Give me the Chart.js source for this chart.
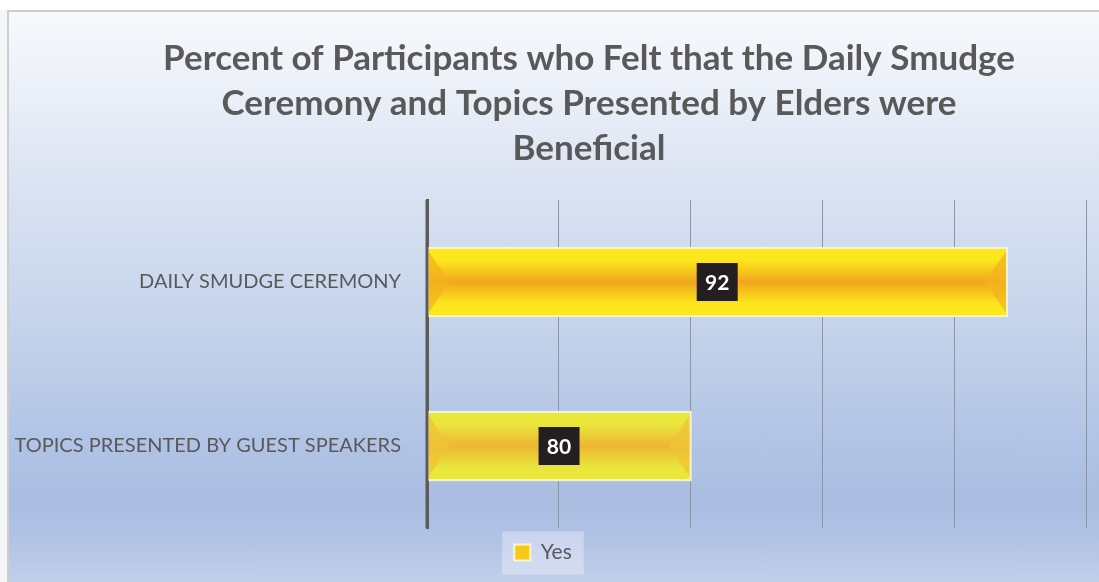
<!DOCTYPE html>
<html>
<head>
<meta charset="utf-8">
<script src="https://cdn.jsdelivr.net/npm/chart.js@4.4.1/dist/chart.umd.min.js"></script>
<style>
  html, body { margin: 0; padding: 0; background: #ffffff; overflow: hidden; }
  #wrap { position: relative; width: 1099px; height: 582px; background: #f4f5f6; }
  #frame {
    position: absolute; left: 7px; top: 10px; right: 0; bottom: 0;
    border-left: 2px solid #cbcdd1; border-top: 2px solid #cbcdd1;
    background: linear-gradient(to bottom,
      #f7f9fc 0px, #e9eef7 90px, #d6e0f1 200px, #c2d1ea 330px,
      #b3c5e6 420px, #a9bde1 490px, #b2c3e5 530px, #c3d0ea 572px);
  }
  #top { position: absolute; left: 0; top: 0; width: 1099px; height: 10px; background: #ffffff; }
  canvas { position: absolute; left: 0; top: 0; }
</style>
</head>
<body>
<div id="wrap">
  <div id="top"></div>
  <div id="frame"></div>
  <canvas id="chart" width="1099" height="582"></canvas>
</div>
<script>
// Survey results
const titleLines = [
  'Percent of Participants who Felt that the Daily Smudge',
  'Ceremony and Topics Presented by Elders were',
  'Beneficial'
];
const categories = ['DAILY SMUDGE CEREMONY', 'TOPICS PRESENTED BY GUEST SPEAKERS'];
const seriesName = 'Yes';
const yesValues = [92, 80];
const axisMin = 70;
const axisMax = 95;
const axisStep = 5;

// Bar shading per category: [edge, middle, end-bevel]
const barShades = [
  ['#fbe71c', '#f1a61e', '#f4b31c'],
  ['#e9e63c', '#ecb733', '#eec436']
];

const textGrey = '#595959';

// Multi-line title centred over the plot + label column
const titlePlugin = {
  id: 'blockTitle',
  afterDraw(chart) {
    const ctx = chart.ctx;
    ctx.save();
    ctx.fillStyle = textGrey;
    ctx.font = 'bold 35px Lato';
    ctx.textAlign = 'center';
    ctx.textBaseline = 'alphabetic';
    titleLines.forEach((line, i) => ctx.fillText(line, 589, 70 + i * 45));
    ctx.restore();
  }
};

// Bevelled bar faces drawn over each bar element
const bevelPlugin = {
  id: 'bevelBars',
  afterDatasetsDraw(chart) {
    const ctx = chart.ctx;
    const meta = chart.getDatasetMeta(0);
    meta.data.forEach((bar, i) => {
      const p = bar.getProps(['x', 'y', 'base', 'height'], true);
      const x0 = Math.min(p.base, p.x), x1 = Math.max(p.base, p.x);
      const y0 = p.y - p.height / 2, y1 = p.y + p.height / 2;
      const shade = barShades[i % barShades.length];
      const b = Math.min(22, (x1 - x0) / 3);
      ctx.save();
      const g = ctx.createLinearGradient(0, y0, 0, y1);
      g.addColorStop(0, shade[0]);
      g.addColorStop(0.18, shade[0]);
      g.addColorStop(0.5, shade[1]);
      g.addColorStop(0.82, shade[0]);
      g.addColorStop(1, shade[0]);
      ctx.fillStyle = g;
      ctx.fillRect(x0, y0, x1 - x0, y1 - y0);
      // end bevels
      ctx.globalAlpha = 0.75;
      ctx.fillStyle = shade[2];
      ctx.beginPath();
      ctx.moveTo(x0, y0 + 2); ctx.lineTo(x0 + b, p.y); ctx.lineTo(x0, y1 - 2); ctx.closePath();
      ctx.fill();
      ctx.beginPath();
      ctx.moveTo(x1, y0 + 2); ctx.lineTo(x1 - b, p.y); ctx.lineTo(x1, y1 - 2); ctx.closePath();
      ctx.fill();
      ctx.globalAlpha = 1;
      // light rim
      ctx.strokeStyle = 'rgba(255,250,215,0.85)';
      ctx.lineWidth = 2;
      ctx.strokeRect(x0, y0, x1 - x0, y1 - y0);
      ctx.restore();
    });
    // value axis line on top of the bar ends
    const ys = chart.scales.y;
    ctx.save();
    ctx.strokeStyle = '#5c5c5c';
    ctx.lineWidth = 3;
    ctx.beginPath();
    ctx.moveTo(ys.right, chart.chartArea.top);
    ctx.lineTo(ys.right, chart.chartArea.bottom);
    ctx.stroke();
    ctx.restore();
  }
};

// Dark value boxes centred on each bar
const valueBoxPlugin = {
  id: 'valueBoxes',
  afterDatasetsDraw(chart) {
    const ctx = chart.ctx;
    const meta = chart.getDatasetMeta(0);
    const data = chart.data.datasets[0].data;
    ctx.save();
    ctx.font = 'bold 21px Lato';
    ctx.textAlign = 'center';
    ctx.textBaseline = 'middle';
    meta.data.forEach((bar, i) => {
      const p = bar.getProps(['x', 'y', 'base'], true);
      const cx = (p.x + p.base) / 2;
      const w = 41, h = 38;
      ctx.fillStyle = '#231f20';
      ctx.fillRect(cx - w / 2, p.y - h / 2, w, h);
      ctx.fillStyle = '#ffffff';
      ctx.fillText(String(data[i]), cx, p.y + 1);
    });
    ctx.restore();
  }
};

// Pale panel behind the legend entry
const legendPanelPlugin = {
  id: 'legendPanel',
  beforeDraw(chart) {
    const lg = chart.legend;
    if (!lg || !lg.legendHitBoxes || !lg.legendHitBoxes.length) return;
    const hb = lg.legendHitBoxes[0];
    const ctx = chart.ctx;
    ctx.save();
    ctx.fillStyle = 'rgba(235,240,250,0.45)';
    ctx.fillRect(hb.left - 12, hb.top + hb.height / 2 - 21, hb.width + 24, 43);
    ctx.restore();
  }
};

const chart = new Chart(document.getElementById('chart'), {
  type: 'bar',
  data: {
    labels: categories,
    datasets: [{
      label: seriesName,
      data: yesValues,
      base: axisMin,
      backgroundColor: '#f3c21e',
      borderWidth: 0,
      barPercentage: 0.8,
      categoryPercentage: 0.52
    }]
  },
  options: {
    indexAxis: 'y',
    responsive: false,
    animation: false,
    layout: { padding: { top: 200, right: 13, bottom: 9, left: 0 } },
    scales: {
      x: {
        min: axisMin,
        max: axisMax,
        ticks: { display: false, stepSize: axisStep },
        grid: { color: '#8d96a8', lineWidth: 1, drawTicks: false },
        border: { display: false },
        afterFit(scale) { scale.height = 4; }
      },
      y: {
        grid: { display: false },
        border: { display: true, color: '#5c5c5c', width: 3 },
        ticks: {
          color: textGrey,
          font: { family: 'Lato', size: 20 },
          padding: 18
        },
        afterFit(scale) { scale.width = 427; }
      }
    },
    plugins: {
      legend: {
        position: 'bottom',
        labels: {
          color: textGrey,
          font: { family: 'Lato', size: 21 },
          boxWidth: 16,
          boxHeight: 16,
          padding: 10,
          generateLabels(ch) {
            return [{
              text: seriesName,
              fillStyle: '#f6c81c',
              strokeStyle: '#fdf6cf',
              lineWidth: 2,
              fontColor: textGrey,
              datasetIndex: 0,
              hidden: false
            }];
          }
        }
      },
      title: { display: false },
      tooltip: { enabled: false }
    }
  },
  plugins: [legendPanelPlugin, bevelPlugin, valueBoxPlugin, titlePlugin]
});
</script>
</body>
</html>
